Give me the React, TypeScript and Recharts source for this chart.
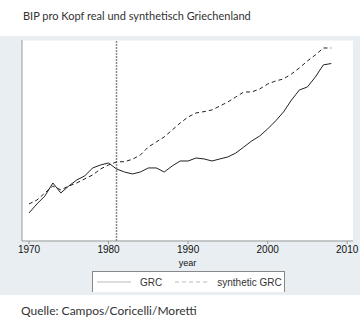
import React from 'react';
import { LineChart, Line, XAxis, YAxis, CartesianGrid, ReferenceLine } from 'recharts';

const years = [
  1970, 1971, 1972, 1973, 1974, 1975, 1976, 1977, 1978, 1979,
  1980, 1981, 1982, 1983, 1984, 1985, 1986, 1987, 1988, 1989,
  1990, 1991, 1992, 1993, 1994, 1995, 1996, 1997, 1998, 1999,
  2000, 2001, 2002, 2003, 2004, 2005, 2006, 2007, 2008,
];

// GDP per capita (thousands)
const grc = [
  12.34, 13.3, 14.15, 15.53, 14.47, 15.21, 15.85, 16.28, 17.13, 17.45,
  17.66, 17.02, 16.7, 16.49, 16.7, 17.13, 17.13, 16.7, 17.34, 17.87,
  17.87, 18.19, 18.09, 17.87, 18.09, 18.3, 18.72, 19.36, 20.0, 20.53,
  21.28, 22.13, 23.09, 24.36, 25.43, 25.74, 26.81, 28.09, 28.24,
];

const synthGrc = [
  13.3, 13.72, 14.47, 15.21, 14.79, 15.21, 15.53, 15.96, 16.38, 17.02,
  17.45, 17.77, 17.8, 18.05, 18.51, 19.36, 19.89, 20.43, 21.17, 21.91,
  22.55, 22.98, 23.12, 23.3, 23.72, 24.15, 24.68, 25.21, 25.21, 25.53,
  26.06, 26.38, 26.6, 27.13, 27.77, 28.51, 29.15, 29.89, 29.89,
];

const xTicks = [1970, 1980, 1990, 2000, 2010];
const yTicks = [10, 15, 20, 25, 30];
const treatmentYear = 1981;
const seriesNames = ['GRC', 'synthetic GRC'];

const data = years.map((year, i) => ({ year, grc: grc[i], synth: synthGrc[i] }));

const Legend = () => (
  <div
    style={{
      position: 'absolute', left: 92, top: 235, width: 191, height: 20,
      background: '#fff', borderTop: '1px solid #888', borderLeft: '1px solid #888', borderRight: '1px solid #888',
      fontFamily: '"Liberation Sans", Arial, sans-serif', fontSize: 10, color: '#333',
      display: 'flex', alignItems: 'center',
    }}
  >
    <svg width={34} height={6} style={{ marginLeft: 4 }}>
      <line x1={0} y1={3} x2={34} y2={3} stroke="#bbb" strokeWidth={1} />
    </svg>
    <span style={{ marginLeft: 9 }}>{seriesNames[0]}</span>
    <svg width={33} height={6} style={{ marginLeft: 13 }}>
      <line x1={0} y1={3} x2={33} y2={3} stroke="#bbb" strokeWidth={1} strokeDasharray="4 3" />
    </svg>
    <span style={{ marginLeft: 9 }}>{seriesNames[1]}</span>
  </div>
);

export default function App() {
  return (
    <div style={{ position: 'absolute', left: 0, top: 0, width: 360, height: 326, background: '#fff', overflow: 'hidden' }}>
      <div
        style={{
          position: 'absolute', left: 23, top: 9, fontFamily: 'Lato, sans-serif', fontSize: 11, color: '#333',
        }}
      >
        BIP pro Kopf real und synthetisch Griechenland
      </div>
      <div style={{ position: 'absolute', left: 0, top: 36, width: 360, height: 259, background: '#e8eef1' }}>
        <div style={{ position: 'absolute', left: 22, top: 4, width: 331, height: 201, background: '#fff' }} />
        <LineChart
          width={360}
          height={259}
          data={data}
          margin={{ top: 4, right: 7, bottom: 28, left: 0 }}
          style={{ fontFamily: '"Liberation Sans", Arial, sans-serif' }}
        >
          <CartesianGrid horizontal vertical={false} stroke="#e9f0f2" />
          <XAxis
            dataKey="year"
            type="number"
            domain={[1969.12, 2010.73]}
            ticks={xTicks}
            allowDataOverflow
            stroke="#999"
            tickSize={3}
            tick={{ fill: '#111', fontSize: 10 }}
            height={26}
            label={{ value: 'year', position: 'insideBottom', offset: 1, fill: '#111', fontSize: 9 }}
          />
          <YAxis
            type="number"
            domain={[9.36, 30.74]}
            ticks={yTicks}
            allowDataOverflow
            width={22}
            tick={false}
            tickSize={3}
            stroke="#999"
          />
          <ReferenceLine x={treatmentYear} stroke="#888" strokeWidth={1.5} strokeDasharray="2 1" />
          <Line dataKey="grc" stroke="#222" strokeWidth={1} dot={false} isAnimationActive={false} />
          <Line dataKey="synth" stroke="#222" strokeWidth={1} strokeDasharray="4 3" dot={false} isAnimationActive={false} />
        </LineChart>
        <Legend />
      </div>
      <div
        style={{
          position: 'absolute', left: 21, top: 303, fontFamily: 'Lato, sans-serif', fontSize: 12, color: '#333',
        }}
      >
        Quelle: Campos/Coricelli/Moretti
      </div>
    </div>
  );
}
